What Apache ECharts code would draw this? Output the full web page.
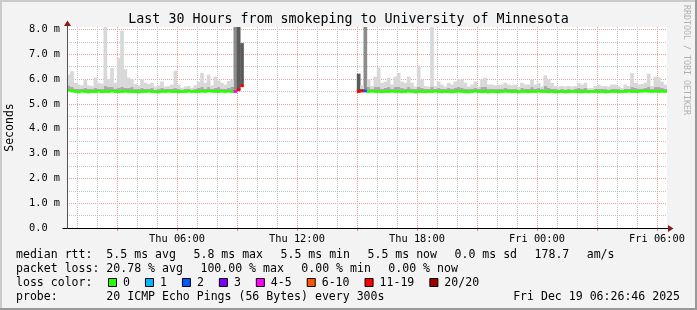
<!DOCTYPE html>
<html><head><meta charset="utf-8">
<script src="https://cdn.jsdelivr.net/npm/echarts@6/dist/echarts.min.js"></script>
<style>html,body{margin:0;padding:0;background:#f3f3f3}#c{width:697px;height:310px}</style>
</head><body><div id="c"></div>
<script>
// ---- data ----
const titleText = 'Last 30 Hours from smokeping to University of Minnesota';
const firstSlotMinutes = 30;   // Thu 00:30
const slotMinutes = 10;
const slotCount = 180;
const tickLabels = ['Thu 06:00','Thu 12:00','Thu 18:00','Fri 00:00','Fri 06:00'];

const median = [
5.55,5.52,5.50,5.49,5.51,5.50,5.48,5.50,5.50,5.51,
5.49,5.50,5.50,5.52,5.50,5.49,5.50,5.51,5.50,5.50,
5.49,5.48,5.50,5.50,5.51,5.50,5.49,5.48,5.50,5.50,
5.51,5.50,5.50,5.49,5.50,5.50,5.51,5.50,5.50,5.50,
5.51,5.50,5.52,5.51,5.50,5.50,5.51,5.50,5.51,5.50,
5.50,5.57,5.73,
null,null,null,null,null,null,null,null,null,null,
null,null,null,null,null,null,null,null,null,null,
null,null,null,null,null,null,null,null,null,null,
null,null,null,null,
5.50,5.52,5.52,5.50,5.51,5.50,5.50,5.49,5.50,5.50,
5.51,5.50,5.50,5.49,5.50,5.51,5.50,5.48,5.50,5.50,
5.49,5.50,5.50,5.51,5.50,5.49,5.50,5.50,5.48,5.50,
5.51,5.50,5.49,5.48,5.50,5.51,5.50,5.49,5.50,5.48,
5.50,5.49,5.48,5.50,5.51,5.50,5.49,5.50,5.48,5.50,
5.50,5.49,5.50,5.50,5.51,5.50,5.50,5.49,5.50,5.48,
5.49,5.50,5.48,5.49,5.50,5.50,5.49,5.48,5.50,5.49,
5.50,5.50,5.49,5.50,5.48,5.49,5.50,5.50,5.49,5.50,
5.50,5.51,5.50,5.50,5.50,5.51,5.52,5.51,5.50,5.51,
5.50,5.51,5.50
];
const smokeMid = [
5.75,5.70,5.62,5.60,5.62,5.65,5.60,5.60,5.65,5.62,
5.60,5.72,5.68,5.70,5.62,5.66,5.70,5.65,5.65,5.68,
5.60,5.62,5.65,5.60,5.62,5.65,5.58,5.60,5.65,5.60,
5.60,5.62,5.65,5.60,5.58,5.60,5.62,5.58,5.60,5.65,
5.70,5.62,5.68,5.60,5.65,5.68,5.62,5.60,5.65,5.70,
8.12,8.12,7.45,
null,null,null,null,null,null,null,null,null,null,
null,null,null,null,null,null,null,null,null,null,
null,null,null,null,null,null,null,null,null,null,
null,null,null,null,
6.22,5.60,8.12,5.68,5.60,5.68,5.70,5.62,5.65,5.68,
5.62,5.68,5.70,5.65,5.62,5.68,5.62,5.60,5.70,5.65,
5.60,5.60,5.70,5.60,5.65,5.62,5.60,5.65,5.62,5.66,
5.68,5.66,5.62,5.60,5.62,5.65,5.60,5.68,5.70,5.62,
5.62,5.60,5.62,5.62,5.65,5.62,5.60,5.62,5.58,5.65,
5.62,5.62,5.68,5.62,5.65,5.60,5.72,5.66,5.62,5.60,
5.58,5.60,5.58,5.60,5.58,5.60,5.65,5.62,5.65,5.56,
5.56,5.60,5.62,5.60,5.60,5.58,5.62,5.62,5.60,5.56,
5.62,5.60,5.70,5.65,5.62,5.62,5.65,5.70,5.60,5.68,
5.68,5.65,5.62
];
const smokeMax = [
6.18,6.32,5.85,5.78,5.75,5.98,5.75,5.72,6.06,5.85,
5.82,8.12,6.00,6.45,5.85,6.85,7.95,6.40,6.06,6.00,
5.80,5.75,6.00,5.85,5.80,5.85,5.70,5.75,5.90,5.70,
5.72,5.78,6.34,5.78,5.65,5.70,5.72,5.65,5.75,5.90,
6.25,5.85,6.18,5.75,6.10,5.95,5.85,5.78,5.92,5.98,
8.12,8.12,7.45,
null,null,null,null,null,null,null,null,null,null,
null,null,null,null,null,null,null,null,null,null,
null,null,null,null,null,null,null,null,null,null,
null,null,null,null,
6.22,5.75,8.12,6.00,5.72,6.10,6.45,5.85,5.90,6.05,
5.78,6.10,6.25,5.90,5.85,6.10,5.85,5.70,6.52,5.98,
5.72,5.70,8.12,5.72,5.90,5.78,5.70,5.85,5.78,5.90,
6.00,5.98,5.85,5.70,5.78,5.90,5.70,5.98,6.05,5.78,
5.78,5.75,5.78,5.78,5.85,5.78,5.75,5.78,5.70,5.85,
5.78,5.78,5.98,5.78,5.85,5.70,6.15,5.98,5.85,5.72,
5.70,5.72,5.70,5.72,5.70,5.72,5.85,5.78,5.85,5.64,
5.64,5.72,5.78,5.72,5.72,5.70,5.78,5.78,5.72,5.64,
5.78,5.72,6.25,5.85,5.78,5.80,5.85,6.22,5.72,6.10,
6.07,5.90,5.78
];
const lossCount = [
0,0,0,0,0,0,0,0,0,0,
0,0,0,0,0,0,0,0,0,0,
0,0,0,0,0,0,0,0,0,0,
0,0,0,0,0,0,0,0,0,0,
0,0,0,0,0,0,0,0,0,0,
4,15,15,
null,null,null,null,null,null,null,null,null,null,
null,null,null,null,null,null,null,null,null,null,
null,null,null,null,null,null,null,null,null,null,
null,null,null,null,
15,12,2,0,0,0,0,0,0,0,
0,0,0,0,0,0,0,0,0,0,
0,0,0,0,0,0,0,0,0,0,
0,0,0,0,0,0,0,0,0,0,
0,0,0,0,0,0,0,0,0,0,
0,0,0,0,0,0,0,0,0,0,
0,0,0,0,0,0,0,0,0,0,
0,0,0,0,0,0,0,0,0,0,
0,0,0,0,0,0,0,0,0,0,
0,0,0
];
const lossLegend = ['0','1','2','3','4-5','6-10','11-19','20/20'];
const lossColors = ['#26ff00','#00b8ff','#0059ff','#7e00ff','#ff00ff','#ff5500','#ff0000','#a10000'];
const statsRtt = ['median rtt:  5.5 ms avg','5.8 ms max','5.5 ms min','5.5 ms now','0.0 ms sd','178.7','am/s'];
const statsLoss = ['packet loss: 20.78 % avg','100.00 % max','0.00 % min','0.00 % now'];
const probeText = 'probe:       20 ICMP Echo Pings (56 Bytes) every 300s';
const dateText = 'Fri Dec 19 06:26:46 2025';
const sideText = 'RRDTOOL / TOBI OETIKER';

// ---- helpers ----
const MONO = '"DejaVu Sans Mono", monospace';
function fmt(mins){
  const h = Math.floor(mins/60), d = h >= 24 ? 'Fri' : 'Thu';
  return d + ' ' + String(h%24).padStart(2,'0') + ':' + String(mins%60).padStart(2,'0');
}
const slotCats = [], edgeCats = [];
for (let i = 0; i < slotCount; i++) slotCats.push(fmt(firstSlotMinutes + slotMinutes*i));
for (let j = 0; j <= slotCount; j++) edgeCats.push(fmt(firstSlotMinutes + slotMinutes*j));
function lossIdx(n){ if(n<=3) return n; if(n<=5) return 4; if(n<=10) return 5; if(n<=19) return 6; return 7; }
function smokeShade(n){ return n===0 ? '#a9a9a9' : (n<=5 ? '#8c8c8c' : '#5a5a5a'); }

const baseData = median.map(v => v);
const darkData = median.map((v,i) => v==null ? null : {value: +(smokeMid[i]-v).toFixed(3), itemStyle:{color: smokeShade(lossCount[i])}});
const lightData = median.map((v,i) => v==null ? null : +(smokeMax[i]-smokeMid[i]).toFixed(3));
const bandHalf = 0.055;
const medBase = median.map(v => v==null ? null : +(v-bandHalf).toFixed(3));
const medBand = median.map((v,i) => v==null ? null : {value: bandHalf*2, itemStyle:{color: lossColors[lossIdx(lossCount[i])]}});

const barCommon = {type:'bar', xAxisIndex:0, yAxisIndex:0, barWidth:3.7, barGap:'-100%', clip:true, silent:true, animation:false};
const isHour = v => v.endsWith(':00');
const hourOf = v => parseInt(v.slice(4,6),10);

const chart = echarts.init(document.getElementById('c'), null, {renderer:'canvas'});
chart.setOption({
  backgroundColor:'#f3f3f3',
  animation:false,
  grid:{left:67, right:30, top:27, bottom:82, show:true, backgroundColor:'#ffffff', borderWidth:0, containLabel:false, outerBoundsMode:'none'},
  xAxis:[
    {type:'category', data:slotCats, boundaryGap:true, show:false},
    {type:'category', data:edgeCats, boundaryGap:false, position:'bottom',
     axisLine:{show:false}, axisTick:{show:false},
     axisLabel:{interval:(i,v)=>tickLabels.includes(v), margin:6, color:'#000', fontFamily:MONO, fontSize:10.3},
     splitLine:{show:true, interval:(i,v)=>isHour(v) && hourOf(v)%3!==0, lineStyle:{color:'#c4c4c4', type:[1,1], width:1}}},
    {type:'category', data:edgeCats, boundaryGap:false, position:'bottom',
     axisLine:{show:false}, axisLabel:{show:false},
     axisTick:{show:true, interval:(i,v)=>isHour(v) && hourOf(v)%3===0, length:3, lineStyle:{color:'#e08a8a'}},
     splitLine:{show:true, interval:(i,v)=>isHour(v) && hourOf(v)%3===0, lineStyle:{color:'#e8a0a0', type:[1,1], width:1}}}
  ],
  yAxis:[{type:'value', min:0, max:8.1, interval:0.5,
    name:'Seconds', nameLocation:'middle', nameGap:51, nameTextStyle:{fontFamily:MONO, fontSize:11.5, color:'#000'},
    axisLine:{show:false}, axisTick:{show:false},
    axisLabel:{margin:7, color:'#000', fontFamily:MONO, fontSize:10.3,
      formatter:v => (Math.abs(v-Math.round(v))<1e-6 && v<=8) ? (v===0 ? '0.0  ' : v.toFixed(1)+' m') : ''},
    splitLine:{show:true, showMaxLine:false, lineStyle:{color:['#e8a0a0','#c4c4c4'], type:[1,1], width:1}}
  }],
  series:[
    Object.assign({}, barCommon, {name:'base', stack:'smoke', data:baseData, itemStyle:{color:'rgba(0,0,0,0)'}}),
    Object.assign({}, barCommon, {name:'dark', stack:'smoke', data:darkData, itemStyle:{color:'#a9a9a9'}}),
    Object.assign({}, barCommon, {name:'light', stack:'smoke', data:lightData, itemStyle:{color:'#d8d8d8'}}),
    Object.assign({}, barCommon, {name:'medBase', stack:'med', data:medBase, itemStyle:{color:'rgba(0,0,0,0)'}}),
    Object.assign({}, barCommon, {name:'median', stack:'med', data:medBand, itemStyle:{color:'#26ff00'}})
  ]
});

// ---- decorations tied to the axes ----
const o = chart.convertToPixel({xAxisIndex:2, yAxisIndex:0}, [0, 0]);
const e = chart.convertToPixel({xAxisIndex:2, yAxisIndex:0}, [slotCount, 0]);
const t = chart.convertToPixel({xAxisIndex:2, yAxisIndex:0}, [0, 8.1]);
const ox = Math.round(o[0]) + 0.5, oy = Math.round(o[1]) + 0.5, ex = Math.round(e[0]), ty = Math.round(t[1]);
const els = [];
// borders
els.push({type:'rect', shape:{x:0,y:0,width:697,height:2}, style:{fill:'#cbcbcb'}, z:200});
els.push({type:'rect', shape:{x:0,y:0,width:2,height:310}, style:{fill:'#cbcbcb'}, z:200});
els.push({type:'rect', shape:{x:0,y:308,width:697,height:2}, style:{fill:'#999999'}, z:201});
els.push({type:'rect', shape:{x:695,y:0,width:2,height:310}, style:{fill:'#999999'}, z:201});
// axes
els.push({type:'line', shape:{x1:ox-5, y1:oy, x2:ex+1, y2:oy}, style:{stroke:'#000', lineWidth:1}, z:150});
els.push({type:'line', shape:{x1:ox, y1:oy, x2:ox, y2:ty-1}, style:{stroke:'#555', lineWidth:1}, z:150});
els.push({type:'polygon', shape:{points:[[ox-3.5,ty-1],[ox+3.5,ty-1],[ox,ty-6.5]]}, style:{fill:'#8b1a1a'}, z:151});
els.push({type:'polygon', shape:{points:[[ex+1,oy-3.5],[ex+1,oy+3.5],[ex+6.5,oy]]}, style:{fill:'#8b1a1a'}, z:151});
// title and side text
els.push({type:'text', x:348.5, y:19.5, style:{text:titleText, font:'13.3px '+MONO, fill:'#000', align:'center', verticalAlign:'middle'}, z:150});
els.push({type:'text', x:686, y:60, rotation:-Math.PI/2, style:{text:sideText, font:'8.3px '+MONO, fill:'#b0b0b0', align:'center', verticalAlign:'middle'}, z:150});
// stats lines
const charW = 6.96, gap = 17.4, x0 = 16;
const rowY = [255, 269, 283, 297];
function row(items, y){ let x = x0; items.forEach(s => { els.push({type:'text', x:x, y:y, style:{text:s, font:'11.56px '+MONO, fill:'#000', align:'left', verticalAlign:'middle'}, z:150}); x += s.length*charW + gap; }); }
row(statsRtt, rowY[0]);
row(statsLoss, rowY[1]);
els.push({type:'text', x:x0, y:rowY[2], style:{text:'loss color:', font:'11.56px '+MONO, fill:'#000', verticalAlign:'middle'}, z:150});
let bx = 108;
lossLegend.forEach((lab, k) => {
  els.push({type:'rect', shape:{x:bx+0.5, y:rowY[2]-4.5, width:8, height:8}, style:{fill:lossColors[k], stroke:'#000', lineWidth:1}, z:150});
  els.push({type:'text', x:bx+15, y:rowY[2], style:{text:lab, font:'11.56px '+MONO, fill:'#000', verticalAlign:'middle'}, z:150});
  bx += 30 + lab.length*charW;
});
els.push({type:'text', x:x0, y:rowY[3], style:{text:probeText, font:'11.56px '+MONO, fill:'#000', verticalAlign:'middle'}, z:150});
els.push({type:'text', x:680, y:rowY[3], style:{text:dateText, font:'11.56px '+MONO, fill:'#000', align:'right', verticalAlign:'middle'}, z:150});
chart.setOption({graphic:{elements:els}});
</script></body></html>
